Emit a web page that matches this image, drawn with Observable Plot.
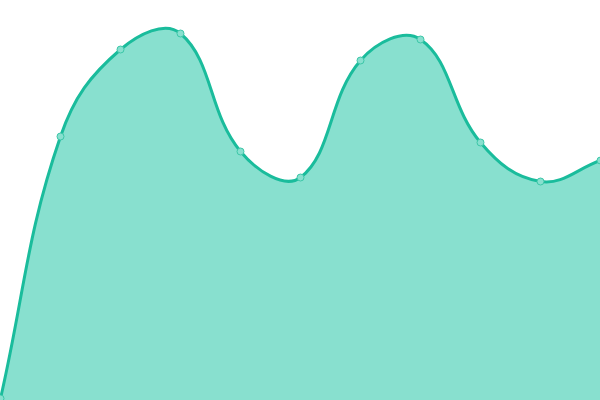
<!DOCTYPE html>
<html>
<head>
<meta charset="utf-8">
<script src="https://cdn.jsdelivr.net/npm/d3@7"></script>
<script src="https://cdn.jsdelivr.net/npm/@observablehq/plot@0.6"></script>
<style>
html,body{margin:0;padding:0;background:#fff;}
</style>
</head>
<body>
<div id="chart"></div>
<script>
const xs = [0, 1, 2, 3, 4, 5, 6, 7, 8, 9, 10];
const values = [2, 264, 351, 367, 249, 223, 340, 361, 258, 219, 240];
const data = xs.map((x, i) => ({x, y: values[i]}));

// Distance-weighted spline curve (tension 0.4) as a d3 curve factory
class TensionCurve {
  constructor(context, t) { this._context = context; this._t = t; }
  areaStart() { this._line = 0; }
  areaEnd() { this._line = NaN; }
  lineStart() { this._xs = []; this._ys = []; }
  point(x, y) { this._xs.push(+x); this._ys.push(+y); }
  lineEnd() {
    const X = this._xs, Y = this._ys, n = X.length, c = this._context, t = this._t;
    if (n) {
      this._line ? c.lineTo(X[0], Y[0]) : c.moveTo(X[0], Y[0]);
      if (n === 2) c.lineTo(X[1], Y[1]);
      else if (n > 2) {
        const cp = [];
        for (let i = 0; i < n; i++) {
          const p = i > 0 ? i - 1 : i, q = i < n - 1 ? i + 1 : i;
          const d01 = Math.hypot(X[i] - X[p], Y[i] - Y[p]);
          const d12 = Math.hypot(X[q] - X[i], Y[q] - Y[i]);
          let s01 = d01 / (d01 + d12), s12 = d12 / (d01 + d12);
          if (!isFinite(s01)) s01 = 0;
          if (!isFinite(s12)) s12 = 0;
          const fa = t * s01, fb = t * s12;
          cp.push({
            px: X[i] - fa * (X[q] - X[p]), py: Y[i] - fa * (Y[q] - Y[p]),
            nx: X[i] + fb * (X[q] - X[p]), ny: Y[i] + fb * (Y[q] - Y[p])
          });
        }
        for (let i = 1; i < n; i++) {
          c.bezierCurveTo(cp[i - 1].nx, cp[i - 1].ny, cp[i].px, cp[i].py, X[i], Y[i]);
        }
      }
    }
    if (this._line || (this._line !== 0 && n === 1)) c.closePath();
    this._line = 1 - this._line;
  }
}
const curve = (context) => new TensionCurve(context, 0.4);

const chart = Plot.plot({
  width: 600,
  height: 400,
  margin: 0,
  x: {domain: [0, 10], axis: null},
  y: {domain: [0, 400], axis: null},
  marks: [
    Plot.areaY(data, {x: "x", y: "y", curve, fill: "#88e0cf"}),
    Plot.lineY(data, {x: "x", y: "y", curve, stroke: "#1abc9c", strokeWidth: 3}),
    Plot.dot(data, {x: "x", y: "y", r: 3.5, fill: "#88e0cf", stroke: "#3cc7a8", strokeWidth: 1})
  ]
});
document.getElementById("chart").appendChild(chart);
</script>
</body>
</html>
